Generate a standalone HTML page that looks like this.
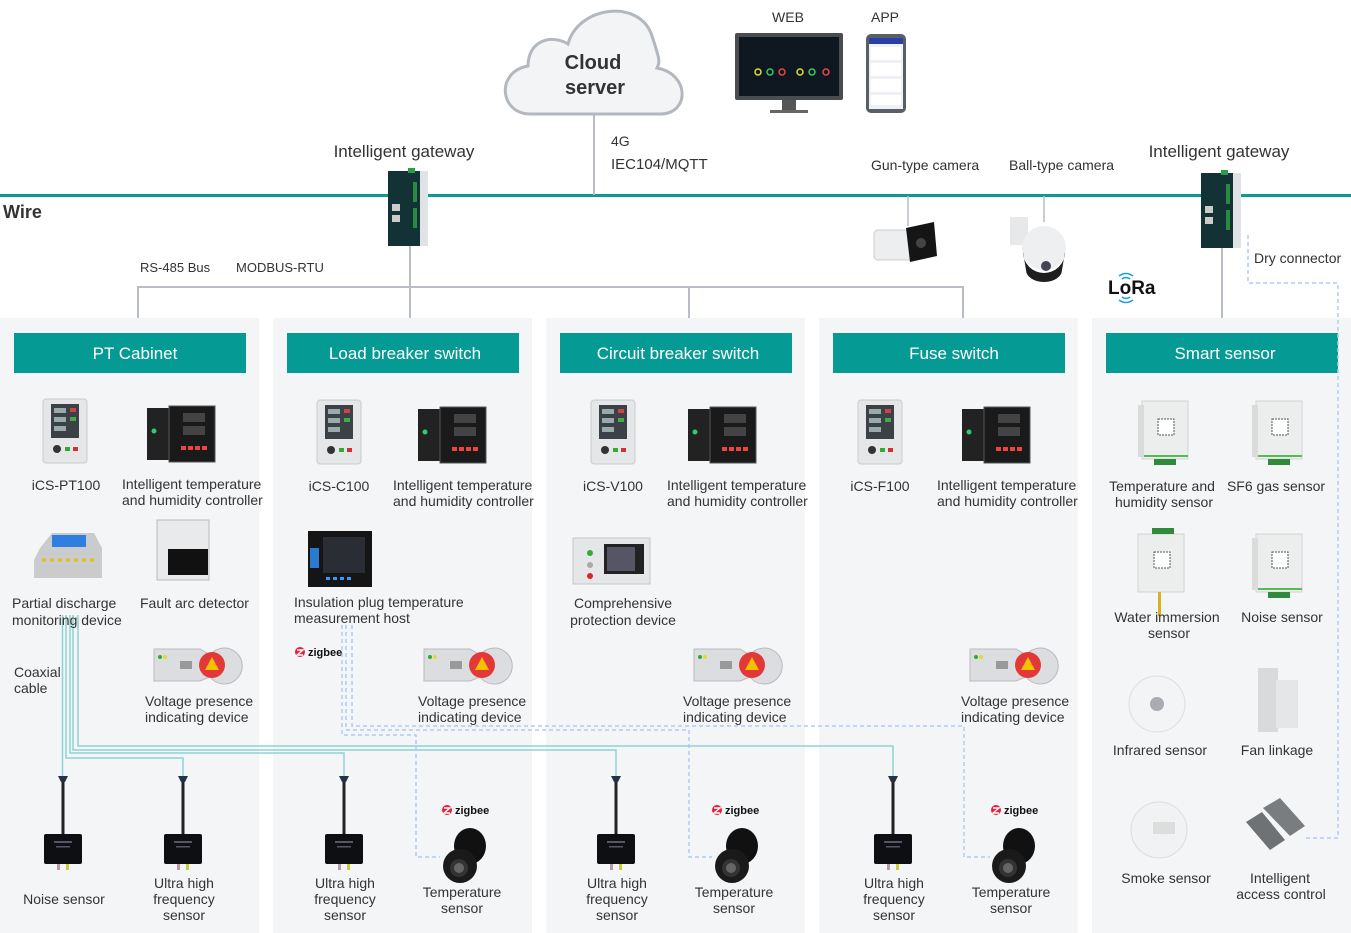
<!DOCTYPE html>
<html><head><meta charset="utf-8"><style>
html,body{margin:0;padding:0;background:#fff;}
svg{display:block;font-family:"Liberation Sans",Arial,sans-serif;}
.t{font-size:14px;fill:#333;}
.c{text-anchor:middle;}
.h{font-size:17px;fill:#fff;text-anchor:middle;}
</style></head><body>
<svg width="1351" height="933" viewBox="0 0 1351 933" xmlns="http://www.w3.org/2000/svg">
<defs>
<g id="ics"><rect x="0" y="0" width="44" height="64" rx="3" fill="#e4e6e8" stroke="#c9cccf"/><rect x="8" y="5" width="28" height="34" fill="#3b4146"/><rect x="11" y="9" width="12" height="5" fill="#9aa"/><rect x="11" y="18" width="12" height="5" fill="#9aa"/><rect x="11" y="27" width="12" height="5" fill="#9aa"/><rect x="27" y="9" width="6" height="4" fill="#c44"/><rect x="27" y="18" width="6" height="4" fill="#4a4"/><circle cx="14" cy="50" r="4" fill="#333"/><rect x="22" y="48" width="5" height="4" fill="#3a3"/><rect x="30" y="48" width="5" height="4" fill="#c33"/></g>
<g id="ctl"><rect x="0" y="2" width="24" height="52" fill="#222"/><rect x="22" y="0" width="46" height="56" fill="#1a1a1a" stroke="#555"/><circle cx="7" cy="25" r="2.5" fill="#3c6"/><rect x="36" y="7" width="22" height="9" fill="#444"/><rect x="36" y="20" width="22" height="9" fill="#444"/><rect x="34" y="40" width="5" height="4" fill="#e44"/><rect x="41" y="40" width="5" height="4" fill="#e44"/><rect x="48" y="40" width="5" height="4" fill="#e44"/><rect x="55" y="40" width="5" height="4" fill="#e44"/></g>
<g id="vp"><path d="M4 4 H50 L60 10 A18 18 0 1 1 60 32 L50 36 H4 Z" fill="#dcdde0" stroke="#b8babd"/><circle cx="62" cy="20" r="13" fill="#e23838"/><path d="M62 12 L69 25 H55 Z" fill="#f5c000"/><rect x="30" y="16" width="12" height="8" fill="#999"/><circle cx="10" cy="12" r="2" fill="#3a3"/><circle cx="15" cy="12" r="2" fill="#dd3"/></g>
<g id="uhf"><line x1="0" y1="0" x2="0" y2="58" stroke="#222" stroke-width="3"/><path d="M-5 -2 H5 L2 4 H-2 Z" fill="#234"/><rect x="-19" y="56" width="38" height="30" rx="2" fill="#0d0f12"/><rect x="-9" y="63" width="18" height="2" fill="#556"/><rect x="-7" y="68" width="14" height="1.5" fill="#556"/><rect x="-6" y="86" width="3" height="6" fill="#b9a"/><rect x="3" y="86" width="3" height="6" fill="#cc3"/></g>
<g id="temp"><ellipse cx="8" cy="0" rx="16" ry="18" fill="#111"/><ellipse cx="-2" cy="20" rx="17" ry="17" fill="#1a1a1a"/><circle cx="-3" cy="22" r="9" fill="#333"/><circle cx="-3" cy="22" r="5" fill="#666"/></g>
<g id="zig"><circle cx="0" cy="0" r="5" fill="#e8203a"/><path d="M-3 -2 H3 L-3 3 H3" stroke="#fff" stroke-width="1.4" fill="none"/><text x="8" y="4" font-size="11" font-weight="bold" fill="#111">zigbee</text></g>
<g id="ss"><rect x="0" y="0" width="46" height="58" fill="#eceeee" stroke="#d2d4d4"/><rect x="-4" y="4" width="6" height="52" fill="#dadcdc"/><rect x="16" y="18" width="16" height="16" fill="#fff" stroke="#555" stroke-dasharray="2 1"/><rect x="2" y="54" width="44" height="2" fill="#5b5"/><rect x="12" y="58" width="22" height="6" fill="#2f8a3a"/></g>
</defs>

<!-- panels -->
<rect x="0" y="318" width="259" height="615" fill="#f4f5f7"/>
<rect x="273" y="318" width="259" height="615" fill="#f4f5f7"/>
<rect x="546" y="318" width="259" height="615" fill="#f4f5f7"/>
<rect x="819" y="318" width="259" height="615" fill="#f4f5f7"/>
<rect x="1092" y="318" width="259" height="615" fill="#f4f5f7"/>

<!-- headers -->
<rect x="14" y="333" width="232" height="40" fill="#069a94"/><text class="h" x="135" y="359">PT Cabinet</text>
<rect x="287" y="333" width="232" height="40" fill="#069a94"/><text class="h" x="405" y="359">Load breaker switch</text>
<rect x="560" y="333" width="232" height="40" fill="#069a94"/><text class="h" x="678" y="359">Circuit breaker switch</text>
<rect x="833" y="333" width="232" height="40" fill="#069a94"/><text class="h" x="954" y="359">Fuse switch</text>
<rect x="1106" y="333" width="232" height="40" fill="#069a94"/><text class="h" x="1225" y="359">Smart sensor</text>

<!-- wire -->
<line x1="0" y1="195.5" x2="1351" y2="195.5" stroke="#0e9a94" stroke-width="3"/>
<line x1="594" y1="112" x2="594" y2="195" stroke="#b9bec6" stroke-width="2"/>
<!-- bus -->
<path d="M138 318 V287 H963 V318 M410 245 V318 M689 287 V318" stroke="#b9bec6" stroke-width="2" fill="none"/>
<line x1="1222" y1="245" x2="1222" y2="318" stroke="#b9bec6" stroke-width="2"/>
<line x1="908" y1="196" x2="908" y2="226" stroke="#b9bec6" stroke-width="1.5"/>
<line x1="1044" y1="196" x2="1044" y2="222" stroke="#b9bec6" stroke-width="1.5"/>

<!-- dry connector dashed -->
<path d="M1248 235 V283 H1338 V838 H1305" stroke="#aecbf0" stroke-width="1.5" stroke-dasharray="4 3" fill="none"/>

<!-- cloud -->
<path d="M530 114 C500 114 495 72 528 66 C528 40 552 34 568 44 C578 6 640 -2 652 36 C660 60 660 62 657 68 C690 74 690 114 660 114 Z" fill="#f3f4f6" stroke="#b3b8be" stroke-width="3"/>
<text x="593" y="69" font-size="20" font-weight="bold" fill="#333" text-anchor="middle">Cloud</text>
<text x="595" y="94" font-size="20" font-weight="bold" fill="#333" text-anchor="middle">server</text>
<text class="t" x="611" y="146" font-size="15">4G</text>
<text class="t" x="611" y="169" style="font-size:15px">IEC104/MQTT</text>

<!-- web/app -->
<text class="t c" x="788" y="22">WEB</text>
<text class="t c" x="885" y="22">APP</text>
<rect x="735" y="33" width="108" height="67" rx="2" fill="#4a4d50"/>
<rect x="739" y="37" width="100" height="59" fill="#0f1820"/>
<g fill="none" stroke-width="1.5"><circle cx="758" cy="72" r="3" stroke="#dd3"/><circle cx="770" cy="72" r="3" stroke="#3c6"/><circle cx="782" cy="72" r="3" stroke="#e44"/><circle cx="800" cy="72" r="3" stroke="#dd3"/><circle cx="812" cy="72" r="3" stroke="#3c6"/><circle cx="826" cy="72" r="3" stroke="#e44"/></g>
<rect x="782" y="100" width="14" height="10" fill="#555"/><rect x="770" y="110" width="38" height="3" fill="#666"/>
<rect x="866" y="34" width="40" height="79" rx="5" fill="#5a5f66"/>
<rect x="869" y="38" width="34" height="71" fill="#eef1f6"/><rect x="869" y="38" width="34" height="6" fill="#2a3fa8"/>
<rect x="871" y="47" width="30" height="13" fill="#fff"/><rect x="871" y="63" width="30" height="13" fill="#fff"/><rect x="871" y="79" width="30" height="13" fill="#fff"/><rect x="871" y="95" width="30" height="10" fill="#fff"/>

<!-- gateways -->
<g transform="translate(388,168)"><rect x="0" y="3" width="32" height="75" fill="#123236"/><rect x="32" y="3" width="8" height="75" fill="#dfe3e5"/><rect x="20" y="0" width="7" height="5" fill="#2a9d4a"/><rect x="4" y="36" width="8" height="7" fill="#ccc"/><rect x="4" y="47" width="8" height="7" fill="#ccc"/><rect x="25" y="14" width="4" height="20" fill="#2a8a40"/><rect x="25" y="40" width="4" height="20" fill="#2a8a40"/></g>
<text class="c" x="404" y="157" font-size="17" fill="#333">Intelligent gateway</text>
<g transform="translate(1201,170)"><rect x="0" y="3" width="32" height="75" fill="#123236"/><rect x="32" y="3" width="8" height="75" fill="#dfe3e5"/><rect x="20" y="0" width="7" height="5" fill="#2a9d4a"/><rect x="4" y="36" width="8" height="7" fill="#ccc"/><rect x="4" y="47" width="8" height="7" fill="#ccc"/><rect x="25" y="14" width="4" height="20" fill="#2a8a40"/><rect x="25" y="40" width="4" height="20" fill="#2a8a40"/></g>
<text class="c" x="1219" y="157" font-size="17" fill="#333">Intelligent gateway</text>

<text x="3" y="218" font-size="18" font-weight="bold" fill="#333">Wire</text>
<text class="t" x="140" y="272" style="font-size:13px">RS-485 Bus</text>
<text class="t" x="236" y="272" style="font-size:13px">MODBUS-RTU</text>
<text class="t" x="871" y="170">Gun-type camera</text>
<text class="t" x="1009" y="170">Ball-type camera</text>
<text class="t" x="1254" y="263">Dry connector</text>

<!-- cameras -->
<g><rect x="874" y="230" width="44" height="30" rx="4" fill="#eceeef" stroke="#ccc"/><path d="M906 228 L934 222 L937 256 L910 262 Z" fill="#151515"/><circle cx="921" cy="243" r="5" fill="#444"/></g>
<g><rect x="1010" y="217" width="18" height="28" fill="#e6e8ea"/><circle cx="1044" cy="248" r="22" fill="#eeeff0"/><path d="M1023 252 A21 21 0 0 0 1065 252 L1062 270 A18 12 0 0 1 1026 270 Z" fill="#1e1e1e"/><circle cx="1046" cy="266" r="5" fill="#445"/></g>
<!-- LoRa -->
<text x="1108" y="294" font-size="19" font-weight="bold" fill="#111">LoRa</text>
<path d="M1119 276 Q1126 271 1133 276 M1122 279 Q1126 276 1130 279 M1119 300 Q1126 305 1133 300 M1122 297 Q1126 300 1130 297" stroke="#1aa0e0" stroke-width="1.5" fill="none"/>

<!-- coaxial cables -->
<g stroke="#8fd3d3" stroke-width="1.5" fill="none">
<path d="M62.5 615 V778"/>
<path d="M66 615 V758 H183 V778"/>
<path d="M70 615 V753 H344 V778"/>
<path d="M73 615 V750 H616 V778"/>
<path d="M78 615 V746 H893 V778"/>
</g>
<!-- zigbee dashed -->
<g stroke="#aecbf0" stroke-width="1.5" fill="none" stroke-dasharray="4 3">
<path d="M342 625 V735 H416 V857 H440"/>
<path d="M346 625 V730 H689 V857 H712"/>
<path d="M352 625 V726 H964 V857 H990"/>
</g>

<!-- Panel 1 -->
<use href="#ics" x="43" y="399"/>
<text class="t c" x="66" y="490">iCS-PT100</text>
<use href="#ctl" x="147" y="406"/>
<text class="t" x="122" y="489">Intelligent temperature</text>
<text class="t" x="122" y="505">and humidity controller</text>
<g><path d="M40 548 L52 533 H94 L102 548 V578 H34 V560 Z" fill="#c9cbcd"/><rect x="52" y="535" width="34" height="12" fill="#2f7fe0"/><g fill="#e0c020"><circle cx="44" cy="560" r="2"/><circle cx="52" cy="560" r="2"/><circle cx="60" cy="560" r="2"/><circle cx="68" cy="560" r="2"/><circle cx="76" cy="560" r="2"/><circle cx="84" cy="560" r="2"/><circle cx="92" cy="560" r="2"/></g></g>
<g><rect x="157" y="520" width="52" height="60" fill="#e8eaeb" stroke="#bbb"/><rect x="168" y="549" width="40" height="26" fill="#111"/></g>
<text class="t" x="12" y="608">Partial discharge</text>
<text class="t" x="12" y="625">monitoring device</text>
<text class="t" x="140" y="608">Fault arc detector</text>
<use href="#vp" x="150" y="645"/>
<text class="t" x="145" y="706">Voltage presence</text>
<text class="t" x="145" y="722">indicating device</text>
<text class="t" x="14" y="677">Coaxial</text>
<text class="t" x="14" y="693">cable</text>
<use href="#uhf" x="63" y="778"/>
<text class="t c" x="64" y="904">Noise sensor</text>
<use href="#uhf" x="183" y="778"/>
<text class="t c" x="184" y="888">Ultra high</text><text class="t c" x="184" y="904">frequency</text><text class="t c" x="184" y="920">sensor</text>

<!-- Panel 2 -->
<use href="#ics" x="317" y="400"/>
<text class="t c" x="339" y="491">iCS-C100</text>
<use href="#ctl" x="418" y="407"/>
<text class="t" x="393" y="490">Intelligent temperature</text>
<text class="t" x="393" y="506">and humidity controller</text>
<g><rect x="308" y="531" width="64" height="56" fill="#151515"/><rect x="323" y="537" width="42" height="36" fill="#2a2d33"/><rect x="310" y="548" width="9" height="20" fill="#2a7ad0"/><rect x="326" y="577" width="4" height="3" fill="#39f"/><rect x="333" y="577" width="4" height="3" fill="#39f"/><rect x="340" y="577" width="4" height="3" fill="#39f"/><rect x="347" y="577" width="4" height="3" fill="#39f"/></g>
<text class="t" x="294" y="607">Insulation plug temperature</text>
<text class="t" x="294" y="623">measurement host</text>
<use href="#zig" x="300" y="652"/>
<use href="#vp" x="420" y="645"/>
<text class="t" x="418" y="706">Voltage presence</text>
<text class="t" x="418" y="722">indicating device</text>
<use href="#uhf" x="344" y="778"/>
<text class="t c" x="345" y="888">Ultra high</text><text class="t c" x="345" y="904">frequency</text><text class="t c" x="345" y="920">sensor</text>
<use href="#zig" x="447" y="810"/>
<use href="#temp" x="462" y="846"/>
<text class="t c" x="462" y="897">Temperature</text><text class="t c" x="462" y="913">sensor</text>

<!-- Panel 3 -->
<use href="#ics" x="591" y="400"/>
<text class="t c" x="613" y="491">iCS-V100</text>
<use href="#ctl" x="688" y="407"/>
<text class="t" x="667" y="490">Intelligent temperature</text>
<text class="t" x="667" y="506">and humidity controller</text>
<g><rect x="573" y="538" width="77" height="46" fill="#e4e6e8" stroke="#c5c8cb"/><rect x="604" y="544" width="40" height="30" fill="#222"/><rect x="607" y="547" width="28" height="24" fill="#556"/><circle cx="590" cy="553" r="3" fill="#3a3"/><circle cx="590" cy="565" r="3" fill="#aaa"/><circle cx="590" cy="576" r="3" fill="#d22"/></g>
<text class="t c" x="623" y="608">Comprehensive</text>
<text class="t c" x="623" y="625">protection device</text>
<use href="#vp" x="690" y="645"/>
<text class="t" x="683" y="706">Voltage presence</text>
<text class="t" x="683" y="722">indicating device</text>
<use href="#uhf" x="616" y="778"/>
<text class="t c" x="617" y="888">Ultra high</text><text class="t c" x="617" y="904">frequency</text><text class="t c" x="617" y="920">sensor</text>
<use href="#zig" x="717" y="810"/>
<use href="#temp" x="734" y="846"/>
<text class="t c" x="734" y="897">Temperature</text><text class="t c" x="734" y="913">sensor</text>

<!-- Panel 4 -->
<use href="#ics" x="858" y="400"/>
<text class="t c" x="880" y="491">iCS-F100</text>
<use href="#ctl" x="962" y="407"/>
<text class="t" x="937" y="490">Intelligent temperature</text>
<text class="t" x="937" y="506">and humidity controller</text>
<use href="#vp" x="966" y="645"/>
<text class="t" x="961" y="706">Voltage presence</text>
<text class="t" x="961" y="722">indicating device</text>
<use href="#uhf" x="893" y="778"/>
<text class="t c" x="894" y="888">Ultra high</text><text class="t c" x="894" y="904">frequency</text><text class="t c" x="894" y="920">sensor</text>
<use href="#zig" x="996" y="810"/>
<use href="#temp" x="1011" y="846"/>
<text class="t c" x="1011" y="897">Temperature</text><text class="t c" x="1011" y="913">sensor</text>

<!-- Panel 5 -->
<use href="#ss" x="1142" y="401"/>
<text class="t c" x="1162" y="491">Temperature and</text>
<text class="t c" x="1164" y="507">humidity sensor</text>
<use href="#ss" x="1256" y="401"/>
<text class="t c" x="1276" y="491">SF6 gas sensor</text>
<g transform="translate(1138,534)"><rect x="0" y="0" width="46" height="58" fill="#eceeee" stroke="#d2d4d4"/><rect x="14" y="-6" width="22" height="6" fill="#2f8a3a"/><rect x="16" y="18" width="16" height="16" fill="#fff" stroke="#555" stroke-dasharray="2 1"/><rect x="20" y="58" width="3" height="24" fill="#d8b020"/></g>
<text class="t c" x="1167" y="622">Water immersion</text>
<text class="t c" x="1169" y="638">sensor</text>
<use href="#ss" x="1256" y="534"/>
<text class="t c" x="1282" y="622">Noise sensor</text>
<circle cx="1157" cy="704" r="28" fill="#f3f4f5" stroke="#dcdde0"/><circle cx="1157" cy="704" r="7" fill="#a8acb2"/>
<text class="t c" x="1160" y="755">Infrared sensor</text>
<g><rect x="1258" y="668" width="20" height="64" fill="#d8dadb"/><rect x="1276" y="680" width="22" height="48" fill="#e4e6e7"/></g>
<text class="t c" x="1277" y="755">Fan linkage</text>
<circle cx="1159" cy="830" r="28" fill="#f1f2f3" stroke="#dcdde0"/><rect x="1153" y="822" width="22" height="12" fill="#ddd"/>
<text class="t c" x="1166" y="883">Smoke sensor</text>
<g><path d="M1246 822 L1262 812 L1285 840 L1270 850 Z" fill="#6f7275"/><path d="M1263 808 L1280 798 L1305 826 L1290 836 Z" fill="#7a7d80"/></g>
<text class="t c" x="1280" y="883">Intelligent</text>
<text class="t c" x="1281" y="899">access control</text>
</svg>
</body></html>
